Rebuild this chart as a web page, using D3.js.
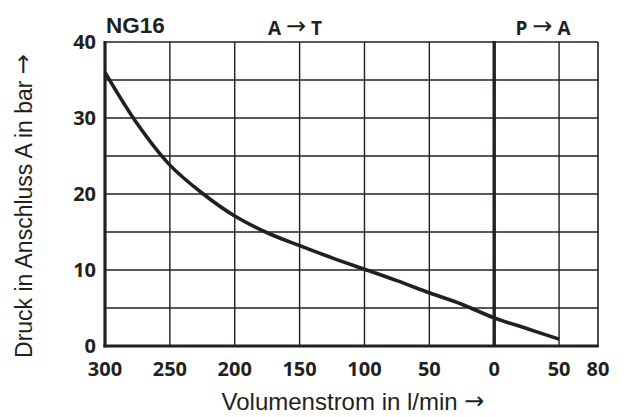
<!DOCTYPE html>
<html><head><meta charset="utf-8">
<script src="https://cdn.jsdelivr.net/npm/d3@7"></script>
<style>body{margin:0;background:#fff}svg{display:block}</style>
</head><body>
<svg id="c" width="627" height="417"></svg>
<script>
// A→T flow (l/min) and pressure (bar)
const flowAT = [300, 275, 250, 225, 200, 175, 150, 125, 100, 75, 50, 25, 0];
const pressAT = [36, 29.2, 23.8, 20.1, 17.1, 14.9, 13.2, 11.6, 10.1, 8.6, 7.0, 5.5, 3.7];
// P→A flow and pressure
const flowPA = [0, 25, 50];
const pressPA = [3.7, 2.3, 0.9];
const xTicksAT = [300, 250, 200, 150, 100, 50, 0];
const xTicksPA = [50, 80];
const yTicks = [0, 10, 20, 30, 40];
const yGrid = [5, 10, 15, 20, 25, 30, 35];
const title = "NG16";
const labelAT = ["A", "T"];
const labelPA = ["P", "A"];
const arrow = "\u2192";
const yTitle = "Druck in Anschluss A in bar";
const xTitle = "Volumenstrom in l/min";

const svg = d3.select("#c");
const ink = "#231f20";
const L = 105, R = 598, T = 42, B = 346;
// signed position: A→T flow negative, P→A positive
const x = d3.scaleLinear().domain([-300, 80]).range([L, R]);
const y = d3.scaleLinear().domain([0, 40]).range([B, T]);

const g = svg.append("g");
const vGrid = [-250, -200, -150, -100, -50, 50];
g.selectAll("line.vg").data(vGrid).enter().append("line")
  .attr("x1", d => x(d)).attr("x2", d => x(d)).attr("y1", T).attr("y2", B)
  .attr("stroke", ink).attr("stroke-width", 1.4);
g.selectAll("line.hg").data(yGrid).enter().append("line")
  .attr("x1", L).attr("x2", R).attr("y1", d => y(d)).attr("y2", d => y(d))
  .attr("stroke", ink).attr("stroke-width", 1.4);
g.append("line").attr("x1", L).attr("x2", R).attr("y1", T).attr("y2", T).attr("stroke", ink).attr("stroke-width", 1.6);
g.append("line").attr("x1", R).attr("x2", R).attr("y1", T).attr("y2", B).attr("stroke", ink).attr("stroke-width", 1.6);
g.append("line").attr("x1", L).attr("x2", L).attr("y1", T - 1).attr("y2", B + 1.5).attr("stroke", ink).attr("stroke-width", 3.2);
g.append("line").attr("x1", L - 1.5).attr("x2", R + 0.8).attr("y1", B).attr("y2", B).attr("stroke", ink).attr("stroke-width", 3.2);
g.append("line").attr("x1", x(0)).attr("x2", x(0)).attr("y1", T - 1).attr("y2", B).attr("stroke", ink).attr("stroke-width", 3.4);

// curve
const pts = flowAT.map((f, i) => [-f, pressAT[i]]).concat(flowPA.slice(1).map((f, i) => [f, pressPA[i + 1]]));
const line = d3.line().x(d => x(d[0])).y(d => y(d[1])).curve(d3.curveCatmullRom);
g.append("path").attr("d", line(pts)).attr("fill", "none").attr("stroke", ink).attr("stroke-width", 3.6);

const font = "'Open Sans', sans-serif";
const sans = "'Liberation Sans', Arial, sans-serif";
g.selectAll("text.yt").data(yTicks).enter().append("text")
  .attr("x", L - 9).attr("y", d => y(d)).attr("dy", "0.33em")
  .attr("text-anchor", "end").attr("font-family", font).attr("font-weight", 700)
  .attr("font-size", 20).attr("fill", ink).text(d => d);
const xt = xTicksAT.map(v => ({p: -v, t: v})).concat(xTicksPA.map(v => ({p: v, t: v})));
g.selectAll("text.xt").data(xt).enter().append("text")
  .attr("x", d => x(d.p)).attr("y", B + 30)
  .attr("text-anchor", "middle").attr("font-family", font).attr("font-weight", 700)
  .attr("font-size", 20).attr("fill", ink).text(d => d.t);

g.append("text").attr("x", L + 1).attr("y", 33).attr("font-family", sans)
  .attr("font-weight", 700).attr("font-size", 22.5).attr("fill", ink).text(title);

function arrowLabel(cx, parts) {
  const t = g.append("text").attr("x", cx).attr("y", 35).attr("text-anchor", "middle")
    .attr("font-family", font).attr("font-weight", 700).attr("font-size", 19).attr("fill", ink);
  t.append("tspan").text(parts[0] + " ");
  t.append("tspan").attr("font-family", "DejaVu Sans").attr("font-weight", 400)
    .attr("font-size", 24).attr("dy", -1).text(arrow);
  t.append("tspan").attr("dy", 1).text(" " + parts[1]);
}
arrowLabel(295, labelAT);
arrowLabel(543, labelPA);

const yt = g.append("text").attr("transform", `translate(32,206) rotate(-90)`)
  .attr("text-anchor", "middle").attr("font-family", sans)
  .attr("font-size", 23).attr("fill", ink);
yt.append("tspan").text(yTitle + " ");
yt.append("tspan").attr("font-family", "DejaVu Sans").attr("font-size", 24).attr("dy", -1).text(arrow);
const xtt = g.append("text").attr("x", 353).attr("y", 410).attr("text-anchor", "middle")
  .attr("font-family", sans).attr("font-size", 24).attr("fill", ink);
xtt.append("tspan").text(xTitle + " ");
xtt.append("tspan").attr("font-family", "DejaVu Sans").attr("font-size", 24).attr("dy", -1).text(arrow);
</script>
</body></html>
